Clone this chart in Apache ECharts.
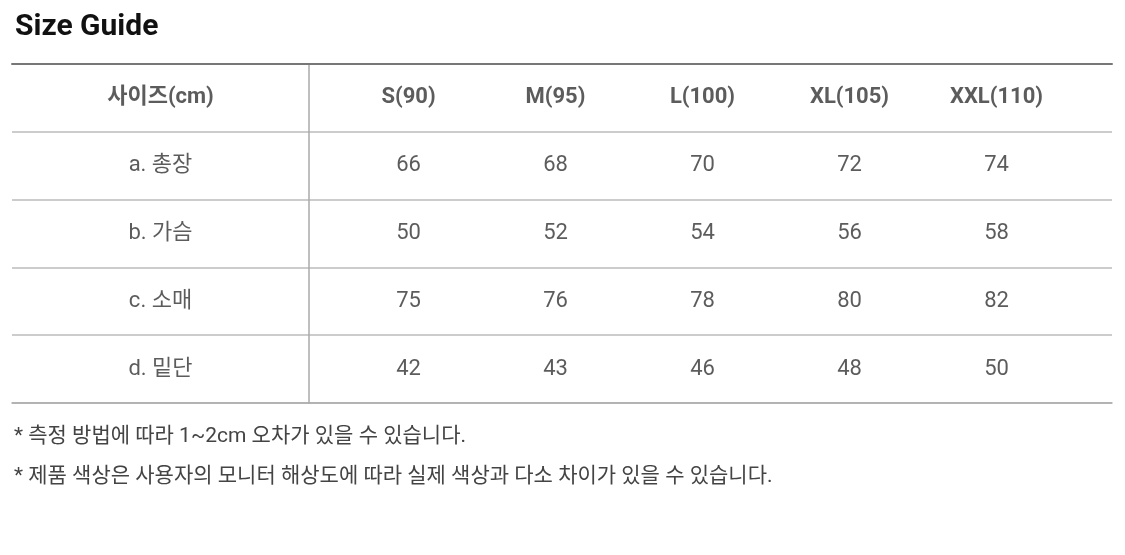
<!DOCTYPE html>
<html><head><meta charset="utf-8">
<script src="https://cdn.jsdelivr.net/npm/echarts@6/dist/echarts.min.js"></script>
<style>html,body{margin:0;background:#fff}#c{width:1125px;height:555px}</style>
</head><body><div id="c"></div>
<script>
const title = 'Size Guide';
const headerLabel = '사이즈(cm)';
const sizes = ['S(90)', 'M(95)', 'L(100)', 'XL(105)', 'XXL(110)'];
const measures = ['a. 총장', 'b. 가슴', 'c. 소매', 'd. 밑단'];
const lengthVals = [66, 68, 70, 72, 74];
const chestVals = [50, 52, 54, 56, 58];
const sleeveVals = [75, 76, 78, 80, 82];
const hemVals = [42, 43, 46, 48, 50];
const notes = ['* 측정 방법에 따라 1~2cm 오차가 있을 수 있습니다.',
               '* 제품 색상은 사용자의 모니터 해상도에 따라 실제 색상과 다소 차이가 있을 수 있습니다.'];

const rows = ['header', ...measures];
const valueRows = [lengthVals, chestVals, sleeveVals, hemVals];
const font = 'Roboto, "Noto Sans CJK KR", sans-serif';

const firstCol = [{value: [0, 'header'], name: headerLabel, bold: true}]
  .concat(measures.map(m => ({value: [0, m], name: m})));
const cells = [];
sizes.forEach((s, i) => cells.push({value: [s, 'header'], name: s, bold: true}));
valueRows.forEach((vals, r) => vals.forEach((v, i) => cells.push({value: [sizes[i], measures[r]], name: String(v)})));

const lab = {show: true, position: 'inside', fontFamily: font, fontSize: 22, color: '#333',
  formatter: p => p.data.name};
function mk(d){ return d.map(o => ({...o, label: {fontWeight: o.bold ? 'bold' : 'normal'}})); }
const clear = {color: 'rgba(0,0,0,0)'};

const chart = echarts.init(document.getElementById('c'));
chart.setOption({
  animation: false,
  title: {text: title, left: 10, top: 8, textStyle: {fontFamily: font, fontSize: 30, fontWeight: 'bold', color: '#111'}},
  graphic: notes.map((t, i) => ({type: 'text', left: 14, top: 426 + i * 40,
    style: {text: t, font: '21px ' + font, fill: '#444'}})),
  grid: [
    {left: 12, right: 13, top: 64, bottom: 152},
    {left: 12, width: 297, top: 64, bottom: 152},
    {left: 335, width: 735, top: 64, bottom: 152}
  ],
  xAxis: [
    {gridIndex: 0, type: 'category', data: ['x'], position: 'top', axisLine: {lineStyle: {color: '#777', width: 2}}, axisTick: {show: false}, axisLabel: {show: false}},
    {gridIndex: 0, type: 'category', data: ['x'], position: 'bottom', axisLine: {lineStyle: {color: '#aaa', width: 1.5}}, axisTick: {show: false}, axisLabel: {show: false}},
    {gridIndex: 1, type: 'category', data: [0], show: false},
    {gridIndex: 2, type: 'category', data: sizes, show: false}
  ],
  yAxis: [
    {gridIndex: 0, type: 'category', data: rows, inverse: true, axisLine: {show: false}, axisTick: {show: false}, axisLabel: {show: false},
      splitLine: {show: true, interval: 0, lineStyle: {color: '#bbb', width: 1.5}}},
    {gridIndex: 1, type: 'category', data: rows, inverse: true, position: 'right', axisLine: {show: true, lineStyle: {color: '#aaa', width: 1.5}}, axisTick: {show: false}, axisLabel: {show: false}},
    {gridIndex: 2, type: 'category', data: rows, inverse: true, show: false}
  ],
  series: [
    {type: 'scatter', xAxisIndex: 2, yAxisIndex: 1, symbolSize: 2, itemStyle: clear, label: lab, data: mk(firstCol)},
    {type: 'scatter', xAxisIndex: 3, yAxisIndex: 2, symbolSize: 2, itemStyle: clear, label: lab, data: mk(cells)}
  ]
});
</script></body></html>
